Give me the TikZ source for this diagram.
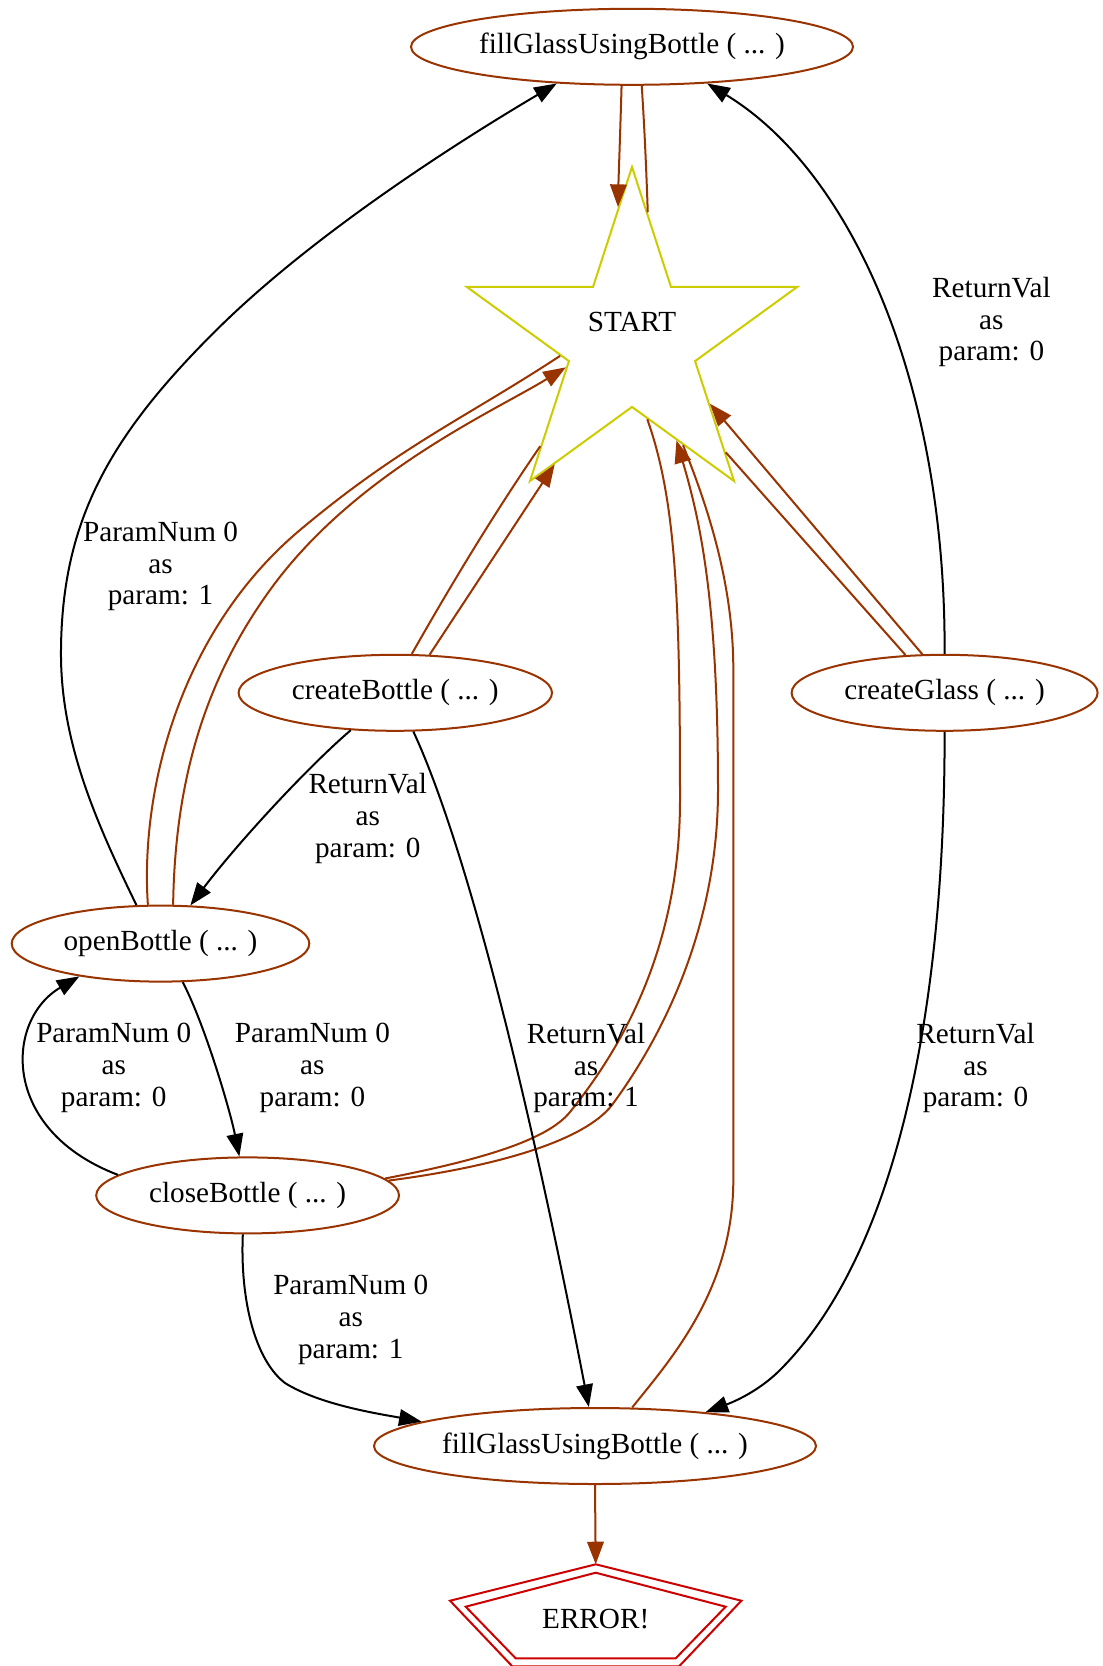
\documentclass[tikz,border=0pt]{standalone}
\usepackage{fontspec}
\setmainfont{Liberation Serif}
\usetikzlibrary{shapes.geometric,arrows.meta}
\definecolor{brn}{HTML}{993300}
\definecolor{yel}{HTML}{CCCC00}
\definecolor{rd}{HTML}{CC0000}
\tikzset{
  fn/.style={ellipse, draw=brn, line width=1pt, inner sep=0pt, minimum height=38pt,
             font=\fontsize{14.6pt}{15.9pt}\selectfont},
  lbl/.style={align=center, inner sep=0pt, font=\fontsize{14.6pt}{15.9pt}\selectfont},
  tip/.style={-{Triangle[length=11.3pt,width=8.3pt]}},
  bl/.style={line width=1pt, tip},
  br/.style={line width=1pt, color=brn},
  bra/.style={br, tip},
}
\begin{document}
\begin{tikzpicture}[x=0.5pt,y=-0.5pt]
\useasboundingbox (0,0) rectangle (1103,1666);

% nodes
\node[fn, minimum width=221pt] (fT) at (632,46.8) {fillGlassUsingBottle ( ... )};
\node[star, star points=5, star point ratio=2.618, draw=yel, line width=1pt,
      minimum size=173.6pt, inner sep=0pt,
      label={[lbl, yshift=9.3pt]center:START}] (st) at (632,340.6) {};
\node[fn, minimum width=156.7pt] (cB) at (395.3,692.8) {createBottle ( ... )};
\node[fn, minimum width=153pt] (cG) at (944.6,692.8) {createGlass ( ... )};
\node[fn, minimum width=148.8pt] (oB) at (160.5,943.6) {openBottle ( ... )};
\node[fn, minimum width=151.4pt] (cl) at (247.6,1195.4) {closeBottle ( ... )};
\node[fn, minimum width=221pt] (fB) at (595,1446) {fillGlassUsingBottle ( ... )};
\node[lbl] (err) at (595.7,1619) {ERROR!};
\coordinate (errtop) at (595.7,1564.3);
\draw[rd, line width=1pt] (errtop) -- (450,1600.7) -- (512.3,1666.3) -- (679.1,1666.3) -- (741.4,1600.7) -- cycle;
\draw[rd, line width=1pt] (595.7,1572.7) -- (465.7,1606.7) -- (515.7,1658.3) -- (675.7,1658.3) -- (725.7,1606.7) -- cycle;

% brown edges
\draw[bra] (fT.255.7) .. controls (620,140) and (618.5,180) .. (st.96);
\draw[br] (st.83.6) .. controls (646,160) and (644,120) .. (fT.284.8);
\draw[br] (oB.108.8) .. controls (140,790) and (180,630.8) .. (300,530)
          .. controls (400,446) and (464,418.8) .. (st.192.7);
\draw[bra] (oB.72.6) .. controls (175,780) and (205,680) .. (270,590)
          .. controls (354.5,473) and (494,411.4) .. (st.202);
\draw[br] (cB.67.4) .. controls (452,583) and (495,512) .. (st.229.6);
\draw[bra] (cB.48) -- (st.238.9);
\draw[br] (cG.136.6) -- (st.310.4);
\draw[bra] (cG.120.1) -- (st.321.7);
\draw[br] (cl.7.9) .. controls (480,1160) and (547,1140.5) .. (570,1112)
          .. controls (620,1050) and (680,950) .. (680,800)
          .. controls (680,600) and (676,500) .. (st.281.1);
\draw[bra] (cl.6.2) .. controls (500,1166) and (585,1140) .. (612,1105)
          .. controls (660,1040) and (718,930) .. (718,790)
          .. controls (718,600) and (700,520) .. (st.294.2);
\draw[br] (fB.46.5) .. controls (670,1360) and (733.3,1290) .. (733.3,1180)
          -- (733.3,669) .. controls (733.3,580) and (705,500) .. (st.296.3);
\draw[bra] (fB.270) -- (errtop);

% black edges
\draw[bl] (oB.122.5) .. controls (95,820) and (60,740) .. (61,650)
          .. controls (62,520) and (110,435) .. (218.6,327.9)
          .. controls (318.6,229.4) and (467.9,135.9) .. (fT.206.9);
\node[lbl] (l1) at (160.5,566.4) {ParamNum 0\\as\\param: 1};
\draw[bl] (cG.90) .. controls (946,380) and (850,170) .. (fT.334.8);
\node[lbl] (l2) at (991.4,322) {ReturnVal\\as\\param: 0};
\draw[bl] (cB.220.6) .. controls (310,765) and (240,840) .. (oB.52.4);
\node[lbl] (l3) at (367.7,818.2) {ReturnVal\\as\\param: 0};
\draw[bl] (cB.295.4) .. controls (450,810) and (510,1000) .. (fB.99.8);
\node[lbl] (l4) at (586,1068) {ReturnVal\\as\\param: 1};
\draw[bl] (cG.270) .. controls (945,1000) and (900,1250) .. (780,1370)
          .. controls (755,1395) and (725,1405) .. (fB.17.3);
\node[lbl] (l5) at (975.5,1068) {ReturnVal\\as\\param: 0};
\draw[bl] (oB.300.6) .. controls (205,1025) and (230,1110) .. (cl.102.5);
\node[lbl] (l6) at (312.4,1068) {ParamNum 0\\as\\param: 0};
\draw[bl] (cl.171.2) .. controls (0,1130) and (5,1020) .. (oB.202.8);
\node[lbl] (l7) at (113.7,1068) {ParamNum 0\\as\\param: 0};
\draw[bl] (cl.263.8) .. controls (240,1300) and (255,1360) .. (285,1383)
          .. controls (320,1405) and (380,1414) .. (fB.172.5);
\node[lbl] (l8) at (350.7,1319.8) {ParamNum 0\\as\\param: 1};
\end{tikzpicture}
\end{document}
